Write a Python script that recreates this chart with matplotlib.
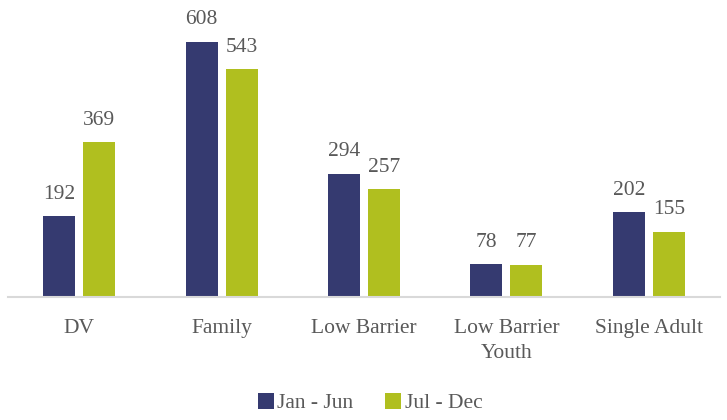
import numpy as np
import matplotlib
matplotlib.use('Agg')
import matplotlib.pyplot as plt

categories = ['DV', 'Family', 'Low Barrier', 'Low Barrier\nYouth', 'Single Adult']
jan_jun = [192, 608, 294, 78, 202]
jul_dec = [369, 543, 257, 77, 155]
series_names = ['Jan - Jun', 'Jul - Dec']

blue = '#353A70'
green = '#B0BF1F'
grey = '#595959'

plt.rcParams['font.family'] = ['Liberation Serif', 'DejaVu Serif']

fig = plt.figure(figsize=(7.27, 4.20), dpi=100)
ax = fig.add_axes([8/727, 123/420, 712/727, 293.6/420])

x = np.arange(len(categories))
w = 0.225
gap = 0.056
b1 = ax.bar(x - (w + gap)/2, jan_jun, w, color=blue, label=series_names[0])
b2 = ax.bar(x + (w + gap)/2, jul_dec, w, color=green, label=series_names[1])

for bars, vals in ((b1, jan_jun), (b2, jul_dec)):
    for rect, v in zip(bars, vals):
        ax.text(rect.get_x() + rect.get_width()/2, v + 30, str(v),
                ha='center', va='bottom', fontsize=15.5, color=grey)

ax.set_xlim(-0.5, len(categories) - 0.5)
ax.set_ylim(0, 700)
ax.set_yticks([])
ax.set_xticks(x)
ax.set_xticklabels(categories, fontsize=15.5, color=grey, linespacing=1.4)
ax.tick_params(axis='x', length=0, pad=16)
for s in ['top', 'right', 'left']:
    ax.spines[s].set_visible(False)
ax.spines['bottom'].set_color('#D9D9D9')
ax.spines['bottom'].set_linewidth(1.5)

fig.legend(handles=[b1, b2], loc='center', bbox_to_anchor=(370/727, 1 - 403/420),
           ncol=2, frameon=False, fontsize=15.5, handlelength=0.75, handleheight=0.75,
           handletextpad=0.15, columnspacing=1.5, labelcolor=grey)

fig.savefig('out.png', dpi=100)
